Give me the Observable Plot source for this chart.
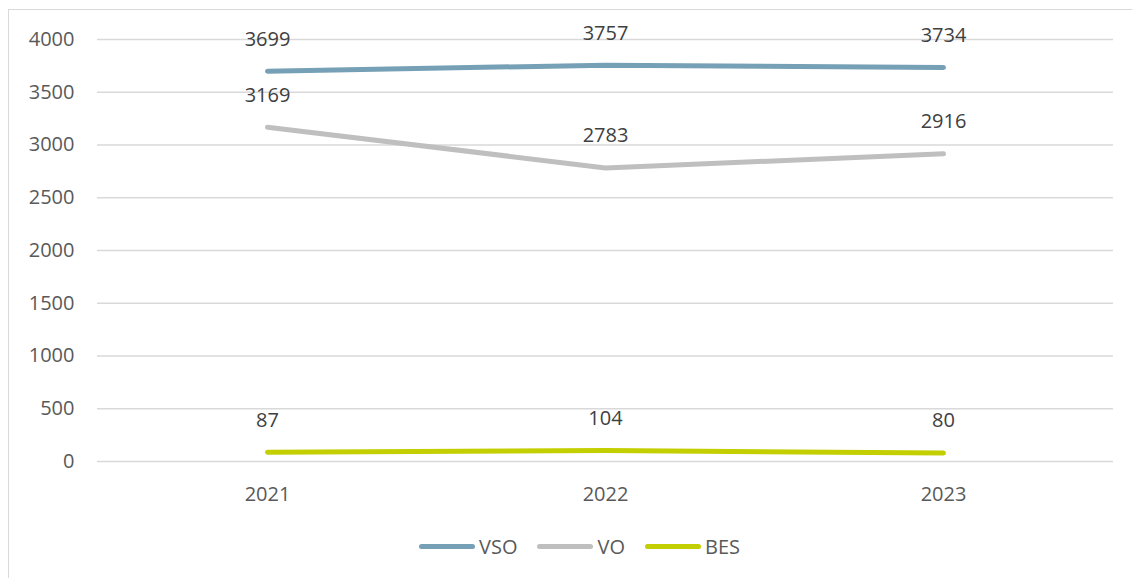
<!DOCTYPE html>
<html>
<head>
<meta charset="utf-8">
<script src="https://cdn.jsdelivr.net/npm/d3@7"></script>
<script src="https://cdn.jsdelivr.net/npm/@observablehq/plot@0.6"></script>
<style>
  html, body { margin: 0; padding: 0; background: #fff; width: 1132px; height: 578px; overflow: hidden; font-family: "Open Sans", sans-serif; }
  #frame { position: absolute; left: 8px; top: 9px; width: 1200px; height: 620px; border: 1.5px solid #d9d9d9; box-sizing: border-box; }
  #chart { position: absolute; left: 0; top: 0; }
  #legend { position: absolute; top: 533px; left: 0; width: 1132px; display: flex; justify-content: center; gap: 20px; padding-left: 27px; box-sizing: border-box; font-size: 20px; color: #595959; }
  .item { display: flex; align-items: center; gap: 4px; }
  .sw { width: 56px; height: 5px; border-radius: 3px; }
</style>
</head>
<body>
<div id="frame"></div>
<div id="chart"></div>
<div id="legend"></div>
<script>
const years = ["2021", "2022", "2023"];
const seriesNames = ["VSO", "VO", "BES"];
const vso = [3699, 3757, 3734];
const vo = [3169, 2783, 2916];
const bes = [87, 104, 80];
const yTicks = [0, 500, 1000, 1500, 2000, 2500, 3000, 3500, 4000];
const colors = ["#76a0b5", "#bfbfbf", "#c3cf00"];

const valuesBySeries = [vso, vo, bes];
const data = [];
seriesNames.forEach((s, i) => years.forEach((y, j) => data.push({series: s, year: y, value: valuesBySeries[i][j]})));

const chart = Plot.plot({
  width: 1132,
  height: 520,
  marginLeft: 97,
  marginRight: 19,
  marginTop: 39,
  marginBottom: 59,
  style: { fontFamily: "Open Sans, sans-serif", fontSize: "20px", color: "#595959", background: "transparent" },
  x: { type: "point", domain: years, padding: 0.5, label: null },
  y: { domain: [0, 4000], ticks: yTicks, label: null },
  color: { domain: seriesNames, range: colors },
  marks: [
    Plot.gridY(yTicks, { stroke: "#d9d9d9", strokeOpacity: 1, strokeWidth: 1.5 }),
    Plot.axisY(yTicks, { tickSize: 0, tickPadding: 23, fill: "#595959", fontSize: 20, label: null, tickFormat: d => String(d) }),
    Plot.axisX({ tickSize: 0, tickPadding: 25, fill: "#595959", fontSize: 20, label: null }),
    Plot.line(data, { x: "year", y: "value", z: "series", stroke: "series", strokeWidth: 5, strokeLinecap: "round", strokeLinejoin: "round" }),
    Plot.text(data, { x: "year", y: "value", text: d => String(d.value), dy: -32, fill: "#404040", fontSize: 20 })
  ]
});
document.getElementById("chart").appendChild(chart);

const legend = document.getElementById("legend");
seriesNames.forEach((s, i) => {
  const it = document.createElement("div");
  it.className = "item";
  const sw = document.createElement("div");
  sw.className = "sw";
  sw.style.background = colors[i];
  const lb = document.createElement("span");
  lb.textContent = s;
  it.appendChild(sw);
  it.appendChild(lb);
  legend.appendChild(it);
});
</script>
</body>
</html>
